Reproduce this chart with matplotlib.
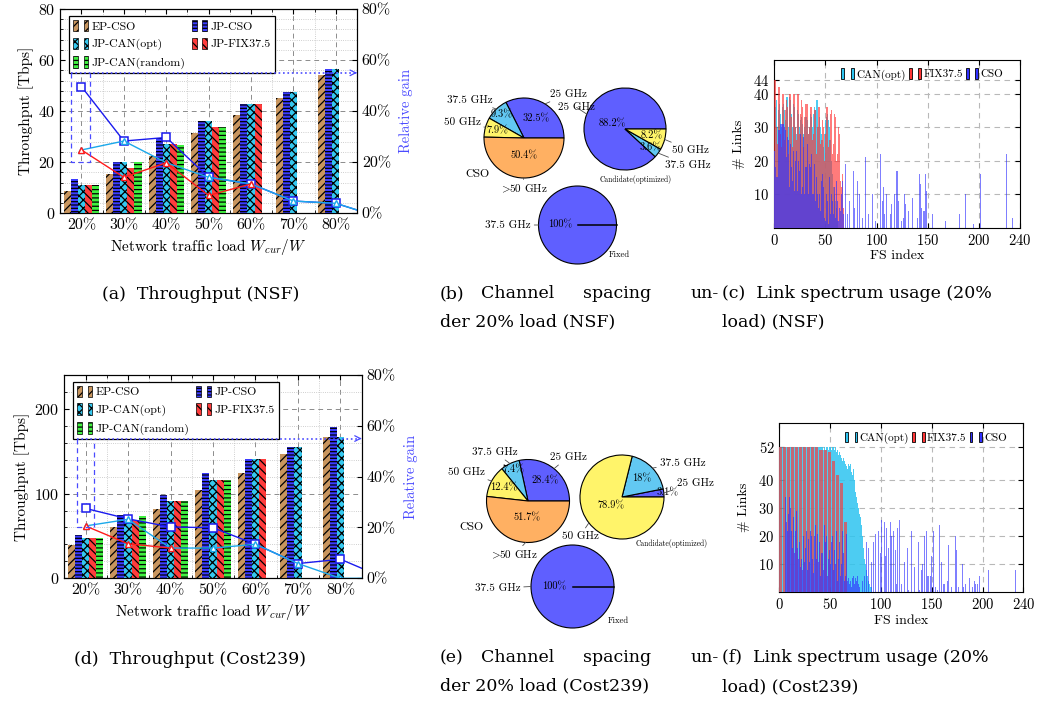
import matplotlib
matplotlib.use('Agg')
import matplotlib.pyplot as plt
import numpy as np
from matplotlib.patches import Patch
from matplotlib.legend_handler import HandlerTuple
from matplotlib.ticker import MultipleLocator, FuncFormatter

plt.rcParams['font.family'] = ['cmr10', 'DejaVu Serif']
plt.rcParams['mathtext.fontset'] = 'cm'
plt.rcParams['axes.unicode_minus'] = False
plt.rcParams['axes.formatter.use_mathtext'] = True
plt.rcParams['hatch.color'] = 'black'
plt.rcParams['hatch.linewidth'] = 0.9

# ---------------- data ----------------
loads = ['20%', '30%', '40%', '50%', '60%', '70%', '80%']
schemes = ['EP-CSO', 'JP-CSO', 'JP-CAN(opt)', 'JP-FIX37.5', 'JP-CAN(random)']

# throughput NSF [Tbps]
nsf_ep = [8.7, 15.5, 22.4, 31.3, 38.4, 45.3, 54.2]
nsf_jp_cso = [13.4, 20.2, 29.6, 36.1, 42.9, 47.5, 56.6]
nsf_can = [11.0, 20.2, 27.0, 36.1, 42.9, 47.5, 56.4]
nsf_fix = [11.0, 17.9, 27.0, 33.8, 42.9]
nsf_rand = [11.0, 20.2, 26.8, 33.8]
# relative gain NSF [%] (last point = 90% load, outside the axis)
nsf_gain_cso = [49.6, 28.3, 29.7, 14.1, 11.5, 4.8, 3.9, -1.3]
nsf_gain_can = [24.8, 28.3, 19.8, 14.1, 11.5, 4.8, 3.9, -1.3]
nsf_gain_fix = [24.8, 14.1, 19.8, 7.0, 11.5]

# throughput Cost239 [Tbps]
c239_ep = [39.9, 60.5, 82.0, 104.3, 124.6, 146.9, 166.8]
c239_jp_cso = [50.8, 74.2, 98.8, 124.6, 141.0, 154.7, 178.9]
c239_can = [48.1, 73.0, 91.8, 116.0, 141.0, 154.7, 166.8]
c239_fix = [48.1, 68.3, 91.8, 116.0, 141.0]
c239_rand = [47.7, 73.8, 91.8, 116.0]
c239_gain_cso = [27.5, 23.4, 20.2, 19.9, 13.4, 5.8, 7.5, 0.4]
c239_gain_can = [20.6, 23.2, 11.9, 11.9, 13.4, 5.8, 0.0, 0.0]
c239_gain_fix = [20.6, 13.6, 11.9]

# channel spacing shares [%]
sp_keys_cso = ['25 GHz', '37.5 GHz', '50 GHz', '>50 GHz']
sp_keys_can = ['25 GHz', '37.5 GHz', '50 GHz']
nsf_sp_cso = [32.5, 9.3, 7.9, 50.4]
nsf_sp_can = [88.2, 3.6, 8.2]
c239_sp_cso = [28.4, 7.4, 12.4, 51.7]
c239_sp_can = [3.1, 18.0, 78.9]
sp_fixed = [100]

# link spectrum usage, NSF (# links per FS index)
nsf_can_use = [23, 36, 38, 30, 35, 37, 34, 30, 36, 37, 35, 32, 39, 39, 30, 39, 38, 34, 30, 37,
               36, 30, 28, 35, 34, 30, 32, 33, 31, 28, 30, 33, 32, 28, 30, 34, 33, 30, 34, 36,
               35, 38, 38, 30, 33, 30, 28, 26, 24, 28, 32, 33, 34, 32, 30, 26, 20, 16, 12, 10,
               8, 6, 2]
nsf_fix_use = [44, 44, 30, 25, 42, 42, 28, 24, 40, 40, 26, 35, 38, 36, 22, 40, 40, 33, 24, 40,
               40, 30, 26, 40, 40, 28, 34, 38, 36, 24, 33, 37, 37, 28, 30, 36, 36, 26, 28, 35,
               35, 22, 30, 36, 36, 25, 26, 32, 30, 20, 28, 36, 36, 24, 26, 34, 35, 22, 25, 34,
               33, 20, 22, 30, 28, 14, 12, 16, 6]
nsf_cso_use = [23, 18, 15, 15, 29, 29, 31, 31, 31, 31, 30, 29, 21, 27, 26, 12, 25, 18, 14, 23,
               11, 20, 23, 11, 20, 17, 28, 10, 12, 27, 10, 18, 25, 10, 19, 18, 22, 10, 10, 19,
               8, 15, 10, 6, 10, 5, 14, 16, 12, 3, 2, 10, 8, 1, 15, 4, 10, 8, 4, 12,
               3, 14, 8, 2, 6, 5, 10, 14, 4]
nsf_cso_tail = {70: 19, 72: 4, 74: 8, 77: 17, 78: 6, 81: 14, 83: 10, 86: 3, 89: 21, 92: 4,
                96: 10, 99: 2, 104: 22, 106: 8, 107: 12, 108: 4, 110: 10, 114: 4, 115: 7,
                118: 10, 120: 17, 121: 8, 124: 2, 126: 3, 127: 10, 128: 7, 131: 5, 135: 9,
                140: 3, 142: 16, 143: 13, 144: 6, 146: 5, 147: 5, 148: 16, 149: 11, 155: 4,
                167: 2, 181: 4, 187: 10, 195: 1, 202: 16, 227: 22, 233: 3}

# link spectrum usage, Cost239
c239_can_use = [52, 52, 52, 52, 52, 52, 52, 52, 52, 52, 52, 52, 52, 52, 52, 52, 52, 52, 52, 52,
                52, 52, 52, 52, 52, 52, 52, 52, 52, 52, 52, 52, 52, 52, 52, 52, 52, 52, 52, 52,
                52, 52, 52, 51, 52, 51, 52, 52, 51, 52, 52, 51, 52, 52, 51, 52, 50, 51, 49, 50,
                49, 48, 47, 48, 47, 46, 45, 44, 46, 45, 46, 43, 42, 44, 40, 36, 34, 32, 30, 28,
                27, 24, 20, 16, 12, 10, 8, 6, 4, 3, 2, 2]
c239_fix_use = [52, 52, 52, 0, 52, 52, 52, 0, 52, 52, 52, 0, 52, 52, 52, 0, 52, 52, 52, 0,
                52, 52, 52, 0, 52, 52, 52, 0, 52, 52, 52, 0, 52, 52, 52, 0, 52, 52, 52, 0,
                51, 51, 51, 0, 51, 51, 51, 0, 50, 50, 50, 0, 47, 47, 47, 0, 42, 42, 42, 0,
                39, 39, 39, 0, 25, 25, 25]
c239_cso_use = [0, 0, 0, 0, 0, 0, 34, 25, 22, 28, 34, 30, 22, 16, 27, 14, 22, 29, 16, 12,
                18, 9, 12, 8, 20, 11, 16, 22, 8, 19, 11, 22, 20, 12, 7, 20, 24, 12, 21, 11,
                18, 6, 14, 8, 24, 18, 20, 6, 12, 15, 10, 18, 20, 8, 15, 10, 22, 4, 12, 18,
                6, 10, 22, 14, 4, 6, 21, 4, 5, 3, 4, 2, 5, 6, 3, 5, 4, 6, 3, 2]
c239_cso_tail = {82: 4, 84: 6, 86: 18, 88: 16, 91: 11, 93: 18, 95: 21, 98: 22, 100: 14, 101: 26,
                 103: 25, 104: 13, 105: 23, 107: 16, 109: 25, 110: 20, 112: 22, 114: 15, 115: 3,
                 116: 23, 118: 26, 120: 3, 123: 11, 126: 16, 127: 1, 130: 22, 133: 9, 137: 18,
                 138: 1, 140: 8, 141: 10, 143: 20, 145: 22, 146: 6, 147: 6, 149: 6, 150: 13,
                 152: 22, 154: 2, 156: 1, 158: 24, 160: 11, 162: 3, 165: 4, 166: 17, 169: 2,
                 173: 20, 174: 15, 176: 2, 180: 10, 181: 2, 183: 3, 187: 5, 190: 2, 192: 4,
                 193: 3, 195: 3, 197: 6, 206: 8, 232: 8}

# ---------------- figure ----------------
W, H = 1046, 704
fig = plt.figure(figsize=(W / 100, H / 100), dpi=100)


def box(x0, y0, x1, y1):
    # pixel box (y downwards) -> figure rect
    return [x0 / W, 1 - y1 / H, (x1 - x0) / W, (y1 - y0) / H]


def ftxt(x, y, s, **kw):
    fig.text(x / W, 1 - y / H, s, **kw)


bar_styles = [('#c8955e', '////'), ('#3b3bff', '-----'), ('#35c8ef', 'xxxx'),
              ('#ff3c3c', '\\\\\\\\'), ('#40f040', '----')]
c_gain_cso = '#1a1aee'
c_gain_can = '#1aa8ea'
c_gain_fix = '#ff1a1a'
c_ann = '#4a4aff'


def throughput(rect, vals, gains, ymax, ymajor, yminor, bx):
    ax = fig.add_axes(box(*rect))
    x = np.arange(len(loads))
    w = 0.167
    for k, (v, (fc, hat)) in enumerate(zip(vals, bar_styles)):
        ax.bar(x[:len(v)] + (k - 2) * w, v, width=w, color=fc, hatch=hat,
               edgecolor='black', linewidth=0, zorder=3)
    ax.set_xlim(-0.5, 6.5)
    ax.set_ylim(0, ymax)
    ax.set_xticks(x, loads)
    ax.set_yticks(np.arange(0, ymax + 1, ymajor))
    ax.xaxis.set_minor_locator(MultipleLocator(0.5))
    ax.yaxis.set_minor_locator(MultipleLocator(yminor))
    ax.set_axisbelow(True)
    ax.grid(which='major', ls=(0, (5, 4)), color='0.55', lw=0.7)
    ax.grid(which='minor', ls=':', color='0.75', lw=0.6)
    ax.tick_params(which='both', direction='in', top=True, labelsize=11.5)
    ax.tick_params(which='minor', length=2)
    ax.set_xlabel(r'Network traffic load $W_{cur}/W$', fontsize=11)
    ax.set_ylabel('Throughput [Tbps]', fontsize=11, labelpad=3)

    handles = []
    for fc, hat in bar_styles:
        handles.append((Patch(facecolor=fc, hatch=hat, edgecolor='black', lw=0.5),
                        Patch(facecolor=fc, hatch=hat, edgecolor='black', lw=0.5)))
    order = [0, 2, 4, 1, 3]
    leg = ax.legend([handles[i] for i in order], [schemes[i] for i in order],
                    handler_map={tuple: HandlerTuple(ndivide=None, pad=0.5)},
                    ncol=2, loc='upper left', bbox_to_anchor=(0.03, 0.965),
                    fontsize=8.6, fancybox=False, framealpha=1, edgecolor='black',
                    handlelength=1.3, handleheight=1.1, handletextpad=0.3,
                    columnspacing=0.5, labelspacing=0.5, borderpad=0.3,
                    borderaxespad=0)
    leg.get_frame().set_linewidth(0.9)
    leg.set_zorder(10)

    ax2 = ax.twinx()
    ax2.set_ylim(0, 80)
    ax2.set_yticks([0, 20, 40, 60, 80])
    ax2.yaxis.set_major_formatter(FuncFormatter(lambda v, p: '%d%%' % v))
    ax2.tick_params(direction='in', labelsize=11.5)
    ax2.set_ylabel('Relative gain', color=c_ann, fontsize=10.5, labelpad=6)
    g_cso, g_can, g_fix = gains
    ax2.plot(np.arange(len(g_cso)), g_cso, color=c_gain_cso, lw=1, marker='s', ms=6,
             mfc='white', mew=1.1)
    ax2.plot(np.arange(len(g_can)), g_can, color=c_gain_can, lw=1, marker='^', ms=4.5,
             mfc='white', mew=1.0)
    ax2.plot(np.arange(len(g_fix)), g_fix, color=c_gain_fix, lw=1, marker='^', ms=4,
             mfc='white', mew=1.0)
    # dashed zoom box + dotted arrow
    ax2.plot([bx[0], bx[0], bx[1], bx[1]], [55, 20, 20, 55], ls=(0, (4, 3)), color=c_ann, lw=0.9)
    ax2.plot([bx[0], 6.45], [55, 55], ls=':', color=c_ann, lw=1.2)
    ax2.annotate('', xy=(6.5, 55), xytext=(6.4, 55),
                 arrowprops=dict(arrowstyle='->', color=c_ann, lw=0.9))
    return ax, ax2


throughput((60.3, 9, 357, 213.3),
           [nsf_ep, nsf_jp_cso, nsf_can, nsf_fix, nsf_rand],
           [nsf_gain_cso, nsf_gain_can, nsf_gain_fix], 80, 20, 4, (-0.25, 0.2))
throughput((64.3, 375, 361.7, 578.3),
           [c239_ep, c239_jp_cso, c239_can, c239_fix, c239_rand],
           [c239_gain_cso, c239_gain_can, c239_gain_fix], 240, 100, 20, (-0.2, 0.21))

# ---------------- pies ----------------
p_blue, p_cyan, p_yel, p_org = '#5f5fff', '#62c8f2', '#fff46a', '#ffb062'
pie_disp = {'>50 GHz': r'$>\!\!$50 GHz'}


def pie_panel(rect, pies):
    x0, y0, x1, y1 = rect
    ax = fig.add_axes(box(x0, y0, x1, y1))
    for p in pies:
        wedges, _ = ax.pie(p['vals'], colors=p['cols'],
                           startangle=0, counterclock=True, center=p['c'], radius=p['r'],
                           wedgeprops=dict(edgecolor='black', linewidth=0.8))
        cx, cy = p['c']
        r = p['r']
        for wdg, v, key, lab, pd in zip(wedges, p['vals'], p['keys'], p['lab'], p['pd']):
            mid = np.deg2rad((wdg.theta1 + wdg.theta2) / 2)
            ex, ey = cx + r * np.cos(mid), cy + r * np.sin(mid)
            txt = '%g%%' % v if v < 100 else '100%'
            ax.text(cx + pd * r * np.cos(mid), cy + pd * r * np.sin(mid), txt,
                    ha='center', va='center', fontsize=7.5)
            ax.annotate(pie_disp.get(key, key), xy=(ex, ey), xytext=lab,
                        ha='center', va='center', fontsize=8,
                        arrowprops=dict(arrowstyle='-', lw=0.6, color='0.3',
                                        shrinkA=0.5, shrinkB=0))
            if v >= 100:
                th = np.deg2rad(wdg.theta1)
                ax.plot([cx, cx + r * np.cos(th)], [cy, cy + r * np.sin(th)],
                        color='black', lw=1.1)
        tx, ty, tsz = p['title']
        ax.text(tx, ty, p['name'], ha='center', va='center', fontsize=tsz)
    ax.set_xlim(x0, x1)
    ax.set_ylim(H - y1, H - y0)
    ax.set_aspect('auto')
    ax.axis('off')


pie_panel((430, 75, 720, 275), [
    dict(vals=nsf_sp_cso, keys=sp_keys_cso, cols=[p_blue, p_cyan, p_yel, p_org],
         c=(524, 566), r=40, name='CSO',
         title=(477, 530, 8.5), pd=[0.58, 0.8, 0.7, 0.43],
         lab=[(568, 610), (470, 604), (462, 582), (524, 515)]),
    dict(vals=nsf_sp_can, keys=sp_keys_can, cols=[p_blue, p_cyan, p_yel],
         c=(625, 575), r=41, name='Candidate(optimized)',
         title=(636, 524, 5.5), pd=[0.33, 0.78, 0.68],
         lab=[(576, 597), (688, 539), (690, 554)]),
    dict(vals=sp_fixed, keys=['37.5 GHz'], cols=[p_blue], c=(577.5, 479), r=39, name='Fixed',
         title=(619, 449, 6.2), pd=[0.45], lab=[(508, 479)]),
])
pie_panel((430, 440, 720, 640), [
    dict(vals=c239_sp_cso, keys=sp_keys_cso, cols=[p_blue, p_cyan, p_yel, p_org],
         c=(528, 203), r=41.5, name='CSO',
         title=(471.7, 177, 8.5), pd=[0.64, 0.83, 0.67, 0.4],
         lab=[(568, 247), (494.5, 252), (466.7, 232), (514, 149)]),
    dict(vals=c239_sp_can, keys=sp_keys_can, cols=[p_blue, p_cyan, p_yel],
         c=(622, 207), r=42, name='Candidate(optimized)',
         title=(672, 160, 5.5), pd=[1.1, 0.65, 0.32],
         lab=[(695, 221), (682.5, 240.7), (580, 168)]),
    dict(vals=sp_fixed, keys=['37.5 GHz'], cols=[p_blue], c=(572.5, 117.5), r=41.5,
         name='Fixed', title=(618, 83.3, 6.2), pd=[0.45], lab=[(497.5, 115.7)]),
])

# ---------------- spectrum usage ----------------
h_can = '#2ec4f0'
h_fix = '#ff3535'
h_cso = '#3030ff'


def usage(rect, can, fix, cso, cso_tail, ymax, yticks):
    ax = fig.add_axes(box(*rect))
    bk = dict(width=1.0, lw=0, zorder=3)
    ax.bar(np.arange(len(can)), can, color=h_can, alpha=0.85, **bk)
    ax.bar(np.arange(len(fix)), fix, color=h_fix, alpha=0.65, **bk)
    ax.bar(np.arange(len(cso)), cso, color=h_cso, alpha=0.65, **bk)
    ax.bar(list(cso_tail.keys()), list(cso_tail.values()), color=h_cso, alpha=0.62, **bk)
    ax.set_xlim(0, 240)
    ax.set_ylim(0, ymax)
    ax.set_xticks([0, 50, 100, 150, 200, 240])
    ax.set_yticks(yticks)
    ax.set_axisbelow(True)
    ax.grid(ls=(0, (5, 4)), color='0.72', lw=0.8)
    ax.tick_params(direction='in', top=True, right=True, labelsize=10.5)
    ax.set_xlabel('FS index', fontsize=10, labelpad=2)
    ax.set_ylabel('# Links', fontsize=10, labelpad=6)
    handles = [(Patch(fc=c, ec='black', lw=0.6), Patch(fc=c, ec='black', lw=0.6))
               for c in (h_can, h_fix, h_cso)]
    ax.legend(handles, ['CAN(opt)', 'FIX37.5', 'CSO'],
              handler_map={tuple: HandlerTuple(ndivide=None, pad=0.6)},
              ncol=3, loc='upper right', bbox_to_anchor=(0.96, 0.99), frameon=False,
              fontsize=8, handlelength=1.1, handleheight=1.1, handletextpad=0.2,
              columnspacing=0.3, borderaxespad=0.2)


usage((774.3, 60, 1019.7, 227.7), nsf_can_use, nsf_fix_use, nsf_cso_use, nsf_cso_tail,
      50, [10, 20, 30, 40, 44])
usage((779.3, 423.3, 1023.3, 592.3), c239_can_use, c239_fix_use, c239_cso_use, c239_cso_tail,
      60.4, [10, 20, 30, 40, 52])

# ---------------- captions ----------------
cap = dict(family='DejaVu Serif', fontsize=12.5, va='center')
ftxt(201, 295, '(a)  Throughput (NSF)', ha='center', **cap)
ftxt(190, 660, '(d)  Throughput (Cost239)', ha='center', **cap)
for yy, letter, second in ((294, '(b)', 'der 20% load (NSF)'),
                           (658, '(e)', 'der 20% load (Cost239)')):
    ftxt(440, yy, letter, ha='left', **cap)
    ftxt(481, yy, 'Channel', ha='left', **cap)
    ftxt(583, yy, 'spacing', ha='left', **cap)
    ftxt(719, yy, 'un-', ha='right', **cap)
    ftxt(440, yy + 28, second, ha='left', **cap)
ftxt(722, 294, '(c)  Link spectrum usage (20%', ha='left', **cap)
ftxt(722, 322, 'load) (NSF)', ha='left', **cap)
ftxt(722, 658, '(f)  Link spectrum usage (20%', ha='left', **cap)
ftxt(722, 687, 'load) (Cost239)', ha='left', **cap)

fig.savefig('out.png', dpi=100)
